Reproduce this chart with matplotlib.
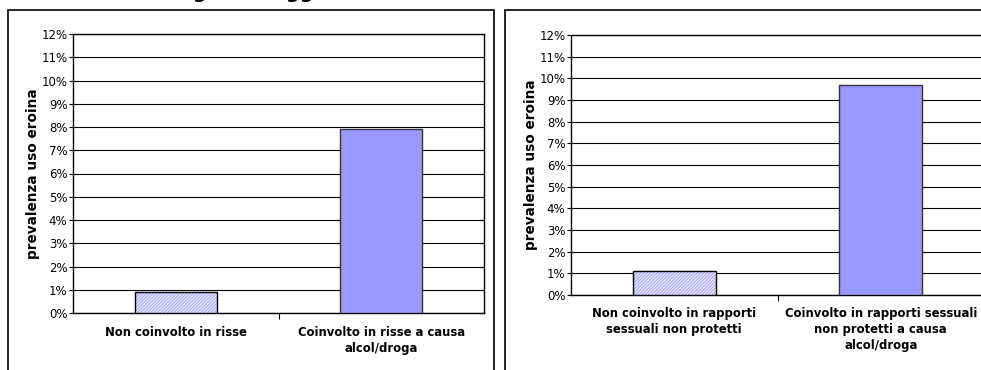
import matplotlib.pyplot as plt
from matplotlib.patches import Rectangle
from matplotlib.ticker import PercentFormatter

# data (prevalenza uso eroina, %)
risse_labels = ['Non coinvolto in risse', 'Coinvolto in risse a causa\nalcol/droga']
risse_values = [0.9, 7.9]

sesso_labels = ['Non coinvolto in rapporti\nsessuali non protetti',
                'Coinvolto in rapporti sessuali\nnon protetti a causa\nalcol/droga']
sesso_values = [1.1, 9.7]

y_ticks = list(range(0, 13))
title_text = 'causa di alcol/droghe e soggetti che non si sono trovati in tali situazioni'

plt.rcParams['font.family'] = ['DejaVu Sans']
plt.rcParams['hatch.linewidth'] = 0.6

fig = plt.figure(figsize=(9.81, 3.70), dpi=100)
W, H = 981, 370

# title cropped at the very top, as in the source image
fig.text(0.0, 1.0 + 8 / H, title_text, fontsize=14, fontweight='bold',
         ha='left', va='center')

# outer chart boxes
fig.patches.append(Rectangle((8 / W, -0.1), 486 / W, 1.1 - 10 / H, transform=fig.transFigure,
                             fill=False, edgecolor='black', linewidth=1.2))
fig.patches.append(Rectangle((505 / W, -0.1), 0.6, 1.1 - 10 / H, transform=fig.transFigure,
                             fill=False, edgecolor='black', linewidth=1.2))


def draw_panel(rect, labels, values):
    ax = fig.add_axes(rect)
    x = list(range(len(values)))
    # hatched first bar, solid second bar
    ax.bar(x[0], values[0], width=0.4, color='#e6e6ff', edgecolor='#9a9af5',
           hatch='//////////', linewidth=0, zorder=3)
    ax.bar(x[0], values[0], width=0.4, fill=False, edgecolor='black', linewidth=1, zorder=4)
    ax.bar(x[1], values[1], width=0.4, color='#9999ff', edgecolor='#333333', linewidth=1, zorder=3)

    ax.set_xlim(-0.5, len(values) - 0.5)
    ax.set_ylim(0, 12)
    ax.set_yticks(y_ticks)
    ax.yaxis.set_major_formatter(PercentFormatter(decimals=0))
    ax.grid(axis='y', color='black', linewidth=0.8, zorder=0)
    ax.set_axisbelow(True)

    ax.set_xticks([0.5])
    ax.set_xticklabels([''])
    ax.tick_params(axis='x', length=4, width=0.8)
    ax.tick_params(axis='y', length=3, width=0.8, labelsize=8.5, pad=1)
    for i, lab in enumerate(labels):
        ax.text(i, -0.55, lab, ha='center', va='top', fontsize=8.4, fontweight='bold',
                transform=ax.transData, linespacing=1.3)

    for s in ax.spines.values():
        s.set_linewidth(1)
    ax.set_ylabel('prevalenza uso eroina', fontsize=9.8, fontweight='bold', labelpad=1)
    return ax


draw_panel([73 / W, 1 - 313 / H, 411 / W, 279 / H], risse_labels, risse_values)
draw_panel([571 / W, 1 - 295 / H, 413 / W, 260 / H], sesso_labels, sesso_values)

fig.savefig('out.png', dpi=100)
